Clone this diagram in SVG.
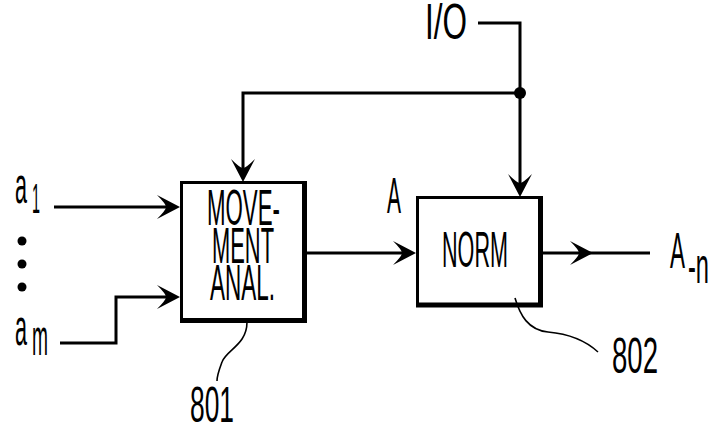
<svg xmlns="http://www.w3.org/2000/svg" width="712" height="430" viewBox="0 0 712 430">
<style>
text{font-family:"Liberation Sans Narrow","Liberation Sans",Arial,sans-serif;font-size:50px;fill:#000}
.box{fill:#fff;stroke:#000;stroke-width:3}
.shadow{fill:none;stroke:#000;stroke-width:5}
.wire{fill:none;stroke:#000;stroke-width:3}
.arrow{marker-end:url(#ah)}
.leader{fill:none;stroke:#000;stroke-width:1.6}
</style>
<defs>
<marker id="ah" markerUnits="userSpaceOnUse" viewBox="-25 -14 26 28" markerWidth="26" markerHeight="28" refX="-8" refY="0" orient="auto">
<path d="M0,0 L-23,-12 Q-14,-3 -14,0 Q-14,3 -23,12 Z" fill="#000"/>
</marker>
</defs>
<rect width="712" height="430" fill="#fff"/>
<g id="connectors">
<path class="wire arrow" d="M54,207 H172"/>
<path class="wire arrow" d="M60,343 H116 V297 H172"/>
<path class="wire arrow" d="M520,93 H243 V174"/>
<path class="wire arrow" d="M478,23 H520 V189"/>
<path class="wire arrow" d="M306,253 H408"/>
<path class="wire arrow" d="M543,253 H585"/>
<path class="wire" d="M585,253 H650"/>
<circle cx="520" cy="93" r="6" fill="#000"/>
</g>
<g id="movement-anal">
<rect class="box" x="181.5" y="182.5" width="122" height="137"/>
<path class="shadow" d="M304.5,181 V320.5 H180"/>
<text x="207" y="225" textLength="73" lengthAdjust="spacingAndGlyphs">MOVE-</text>
<text x="212" y="263" textLength="62" lengthAdjust="spacingAndGlyphs">MENT</text>
<text x="210" y="300" textLength="65" lengthAdjust="spacingAndGlyphs">ANAL.</text>
</g>
<g id="norm">
<rect class="box" x="417.5" y="197.5" width="122" height="107"/>
<path class="shadow" d="M540.5,196 V305 H416"/>
<text x="442" y="267" textLength="66" lengthAdjust="spacingAndGlyphs">NORM</text>
</g>
<g id="label-io">
<text x="425" y="39" textLength="42" lengthAdjust="spacingAndGlyphs">I/O</text>
</g>
<g id="label-a">
<text x="387" y="213" textLength="14" lengthAdjust="spacingAndGlyphs">A</text>
</g>
<g id="label-an">
<text x="670" y="268" textLength="15" lengthAdjust="spacingAndGlyphs">A</text>
<text x="688" y="283" textLength="21" lengthAdjust="spacingAndGlyphs">-n</text>
</g>
<g id="inputs">
<text x="15" y="203" style="font-size:52px" textLength="12" lengthAdjust="spacingAndGlyphs">a</text>
<text x="32" y="213" style="font-size:42px" textLength="8" lengthAdjust="spacingAndGlyphs">1</text>
<circle cx="22" cy="241" r="4.5" fill="#000"/>
<circle cx="22" cy="264" r="4.5" fill="#000"/>
<circle cx="22" cy="287" r="4.5" fill="#000"/>
<text x="15" y="345" style="font-size:52px" textLength="12" lengthAdjust="spacingAndGlyphs">a</text>
<text x="32" y="355" style="font-size:52px" textLength="16" lengthAdjust="spacingAndGlyphs">m</text>
</g>
<g id="ref-801">
<path class="leader" d="M247,322 C247,345 226,350 222,362 C219,370 217,375 217,381"/>
<text x="190" y="422" textLength="44" lengthAdjust="spacingAndGlyphs">801</text>
</g>
<g id="ref-802">
<path class="leader" d="M515,298 C520,315 528,330 548,332 C570,334 585,340 598,352"/>
<text x="612" y="373" textLength="46" lengthAdjust="spacingAndGlyphs">802</text>
</g>
</svg>
